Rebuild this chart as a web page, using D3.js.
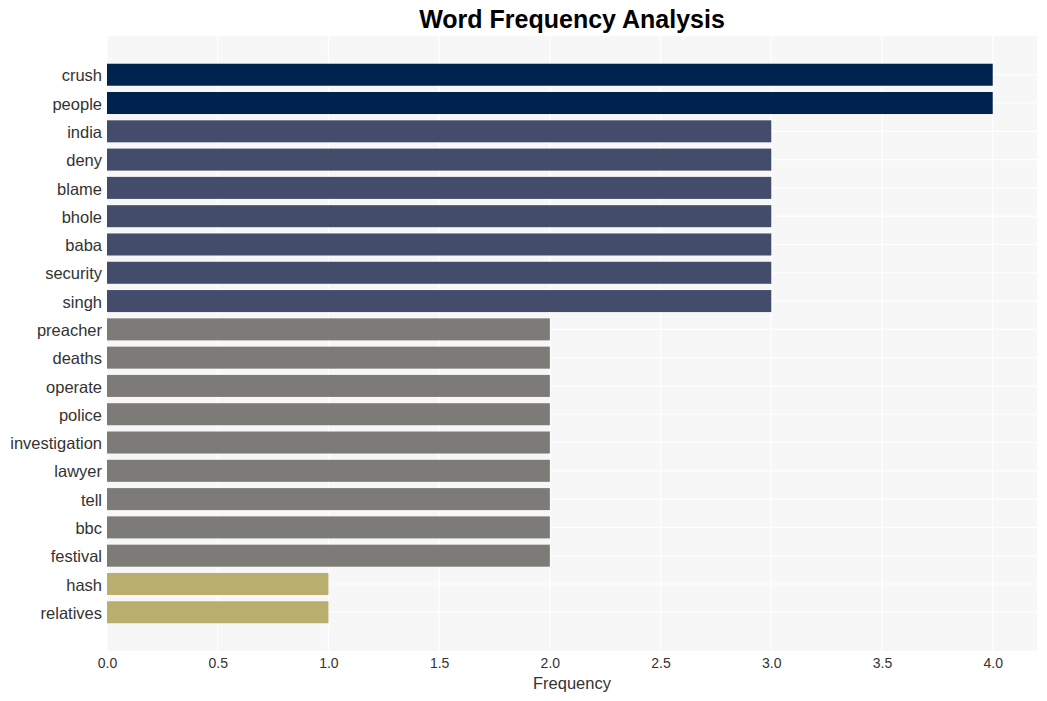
<!DOCTYPE html>
<html>
<head>
<meta charset="utf-8">
<script src="https://cdn.jsdelivr.net/npm/d3@7"></script>
<style>
  html, body { margin: 0; padding: 0; background: #ffffff; }
  svg { display: block; font-family: "Liberation Sans", Arial, Helvetica, sans-serif; }
</style>
</head>
<body>
<svg id="chart" width="1047" height="701"></svg>
<script>
const words = ["crush","people","india","deny","blame","bhole","baba","security","singh","preacher","deaths","operate","police","investigation","lawyer","tell","bbc","festival","hash","relatives"];
const counts = [4,4,3,3,3,3,3,3,3,2,2,2,2,2,2,2,2,2,1,1];
const colorValues = [1,2,3,4];
const colorRange = ["#baae6e","#7c7b78","#434d6b","#00224e"];
const xTicks = [0,0.5,1,1.5,2,2.5,3,3.5,4];

const svg = d3.select("#chart");
const W = 1047, H = 701;
const m = {left: 107, right: 10, top: 36, bottom: 50};
const plotR = W - m.right, plotB = H - m.bottom;

const x = d3.scaleLinear().domain([0, 4.2]).range([m.left, plotR]);
const y = d3.scaleBand().domain(words).range([m.top, plotB]).paddingInner(0.222).paddingOuter(0.98);
const color = d3.scaleOrdinal().domain(colorValues).range(colorRange);

// plot background
svg.append("rect").attr("x", m.left).attr("y", m.top)
  .attr("width", plotR - m.left).attr("height", plotB - m.top).attr("fill", "#f7f7f7");

// vertical grid
svg.append("g").selectAll("line").data(xTicks).join("line")
  .attr("x1", d => x(d)).attr("x2", d => x(d))
  .attr("y1", m.top).attr("y2", plotB)
  .attr("stroke", "#ffffff").attr("stroke-width", 1.2);

// horizontal grid at category centers
svg.append("g").selectAll("line").data(words).join("line")
  .attr("x1", m.left).attr("x2", plotR)
  .attr("y1", d => y(d) + y.bandwidth()/2).attr("y2", d => y(d) + y.bandwidth()/2)
  .attr("stroke", "#ffffff").attr("stroke-width", 1.2);

// bars
svg.append("g").selectAll("rect").data(words).join("rect")
  .attr("x", x(0))
  .attr("y", d => y(d))
  .attr("width", (d, i) => x(counts[i]) - x(0))
  .attr("height", y.bandwidth())
  .attr("fill", (d, i) => color(counts[i]));

// x axis
const xAxis = svg.append("g").attr("transform", `translate(0,${plotB})`)
  .call(d3.axisBottom(x).tickValues(xTicks).tickFormat(d3.format(".1f")).tickSize(0).tickPadding(7));
xAxis.select(".domain").remove();
xAxis.selectAll("text").attr("font-size", 14).attr("fill", "#333333").attr("font-family", "Liberation Sans, Arial, sans-serif");

// y axis
const yAxis = svg.append("g").attr("transform", `translate(${m.left},0)`)
  .call(d3.axisLeft(y).tickSize(0).tickPadding(5));
yAxis.select(".domain").remove();
yAxis.selectAll("text").attr("font-size", 16.5).attr("fill", "#333333").attr("dy", "0.4em")
  .attr("font-family", "Liberation Sans, Arial, sans-serif");

// x axis title
svg.append("text").attr("x", (m.left + plotR)/2).attr("y", 689)
  .attr("text-anchor", "middle").attr("font-size", 16.5).attr("fill", "#333333")
  .text("Frequency");

// title
svg.append("text").attr("x", (m.left + plotR)/2).attr("y", 28)
  .attr("text-anchor", "middle").attr("font-size", 25).attr("font-weight", "bold").attr("fill", "#000000")
  .text("Word Frequency Analysis");
</script>
</body>
</html>
